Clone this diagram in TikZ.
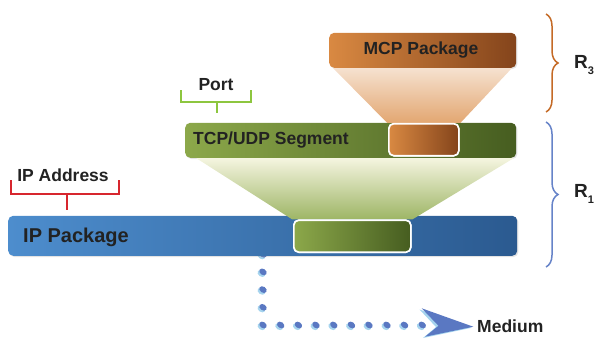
\documentclass[tikz,border=0pt]{standalone}
\usepackage{fontspec}
\setmainfont{Liberation Sans}
\usetikzlibrary{decorations.pathreplacing,shadows}
\definecolor{txt}{HTML}{222222}
\definecolor{orL}{HTML}{D98942}
\definecolor{orR}{HTML}{84441B}
\definecolor{grL}{HTML}{8CA84A}
\definecolor{grR}{HTML}{465D20}
\definecolor{blL}{HTML}{4D8DCD}
\definecolor{blR}{HTML}{2B5A90}
\definecolor{portc}{HTML}{8DC63F}
\definecolor{ipc}{HTML}{D7262E}
\definecolor{rthree}{HTML}{C46A26}
\definecolor{rone}{HTML}{6683C8}
\definecolor{dotc}{HTML}{5A78C2}
\definecolor{haloc}{HTML}{A6D4EE}
\begin{document}
\begin{tikzpicture}[x=1pt,y=1pt,
  box/.style={rounded corners=5pt, inner sep=0pt, anchor=south west,
    drop shadow={shadow xshift=1.2pt,shadow yshift=-1.2pt,opacity=0.22}},
  inbox/.style={rounded corners=5pt, inner sep=0pt, anchor=south west, draw=white, line width=1.6pt},
  lbl/.style={text=txt, font=\bfseries\fontsize{17.5}{19}\selectfont, inner sep=0pt},
  brk/.style={line width=1.8pt},
  dotm/.style={fill=dotc, draw=none},
  halom/.style={fill=haloc, draw=none}]
\useasboundingbox (0,0) rectangle (612,341);

% dotted path (drawn first, partly hidden under IP box)
\coordinate (corner) at (263,16);
\foreach \yy in {86.8,69.1,51.4,33.7,16} {
  \fill[halom,rotate around={-35:(261.4,\yy-1.6)}] (261.4,\yy-1.6) ellipse (4.2pt and 3.1pt);
  \fill[dotm,rotate around={-35:(263,\yy)}] (263,\yy) ellipse (4pt and 3pt);
}
\foreach \xx in {280.7,298.4,316,333.8,351.5,369,387,404.6,422.3} {
  \fill[halom,rotate around={-35:(\xx-1.6,14.4)}] (\xx-1.6,14.4) ellipse (4.2pt and 3.1pt);
  \fill[dotm,rotate around={-35:(\xx,16)}] (\xx,16) ellipse (4pt and 3pt);
}
\coordinate (tip) at (473.3,14.3);
\fill[haloc] (419.5,31.5) -- (471.5,13.2) -- (423,3) -- (436,14) -- cycle;
\fill[dotc] (421.7,32.7) -- (tip) -- (425,4.3) -- (438.5,15.2) -- cycle;
\node[lbl, anchor=west] (medium) at (477,15) {Medium};

% IP package
\node[box, left color=blL, right color=blR, minimum width=509pt, minimum height=40pt] (ip) at (8,85) {};
\node[lbl, anchor=west, font=\bfseries\fontsize{20}{22}\selectfont] (iptext) at (23,104) {IP Package};

% TCP segment
\node[box, left color=grL, right color=grR, minimum width=331pt, minimum height=35pt] (tcp) at (185,183) {};
\node[lbl, anchor=west] (tcptext) at (193,200.5) {TCP/UDP Segment};

% MCP package
\node[box, left color=orL, right color=orR, minimum width=187pt, minimum height=35pt] (mcp) at (329,273) {};
\node[lbl] (mcptext) at (421,291) {MCP Package};

% green trapezoid and inner box
\coordinate (gtl) at (196,183);
\coordinate (gtr) at (514,183);
\node[inbox, left color=grL, right color=grR, minimum width=117pt, minimum height=32pt] (gin) at (293,88) {};
\shade[top color=olive!8!white, bottom color=grL!85!white] (gtl) -- (gtr) -- ([xshift=0.8pt]gin.north east) -- ([xshift=-0.8pt]gin.north west) -- cycle;
\node[inbox, left color=grL, right color=grR, minimum width=117pt, minimum height=32pt] (gin2) at (293,88) {};

% orange trapezoid and inner box
\coordinate (otl) at (333,273);
\coordinate (otr) at (512,273);
\node[inbox, left color=orL, right color=orR, minimum width=70pt, minimum height=32pt] (oin) at (388,184.5) {};
\shade[top color=orL!25!white, bottom color=orL!75!white] (otl) -- (otr) -- ([xshift=0.8pt]oin.north east) -- ([xshift=-0.8pt]oin.north west) -- cycle;
\node[inbox, left color=orL, right color=orR, minimum width=70pt, minimum height=32pt] (oin2) at (388,184.5) {};

% Port bracket
\coordinate (pl) at (181,251);
\coordinate (pr) at (251,251);
\coordinate (pm) at (217,239);
\coordinate (pb) at (217,228);
\draw[brk, portc] (pl) |- (pm) -| (pr);
\draw[brk, portc] (pm) -- (pb);
\node[lbl] (port) at (216,256) {Port};

% IP Address bracket
\coordinate (al) at (11,161);
\coordinate (ar) at (119,161);
\coordinate (am) at (67,147);
\coordinate (ab) at (67,131);
\draw[brk, ipc] (al) |- (am) -| (ar);
\draw[brk, ipc] (am) -- (ab);
\node[lbl] (ipaddr) at (63,166) {IP Address};

% braces
\coordinate (b3t) at (546,327);
\coordinate (b3b) at (546,229);
\coordinate (b1t) at (546,219);
\coordinate (b1b) at (546,74);
\draw[rthree, line width=1.5pt, decorate, decoration={brace, amplitude=12pt}] (b3t) -- (b3b);
\draw[rone, line width=1.5pt, decorate, decoration={brace, amplitude=12pt}] (b1t) -- (b1b);
\node[lbl, anchor=west, font=\bfseries\fontsize{19}{21}\selectfont] (r3) at (574,276) {R\raisebox{-0.3em}{\fontsize{11}{11}\selectfont 3}};
\node[lbl, anchor=west, font=\bfseries\fontsize{19}{21}\selectfont] (r1) at (574,147) {R\raisebox{-0.3em}{\fontsize{11}{11}\selectfont 1}};
\end{tikzpicture}
\end{document}
